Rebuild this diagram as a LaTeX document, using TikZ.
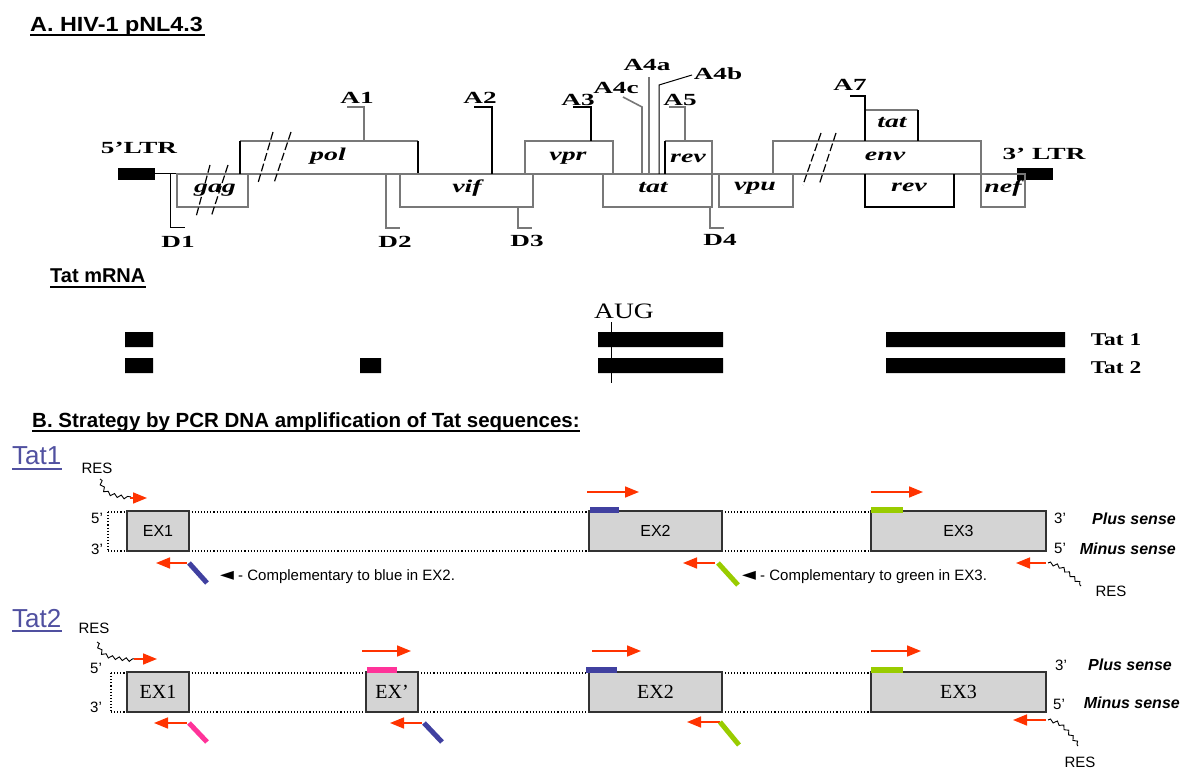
\documentclass[tikz,border=0pt]{standalone}
\usepackage{fontspec}
\setmainfont{Liberation Serif}
\setsansfont{Liberation Sans}
\newfontfamily\symfont{DejaVu Sans}
\usetikzlibrary{arrows.meta,decorations.pathmorphing}

\definecolor{midgray}{RGB}{120,120,120}
\definecolor{resred}{RGB}{255,51,0}
\definecolor{exfill}{RGB}{212,212,212}
\definecolor{exedge}{RGB}{50,50,50}
\definecolor{tagblue}{RGB}{64,64,160}
\definecolor{taggreen}{RGB}{153,204,0}
\definecolor{tagpink}{RGB}{255,51,153}
\definecolor{labblue}{RGB}{80,80,160}

\tikzset{
  gl/.style={draw=midgray, line width=1.6pt},
  bl/.style={draw=black, line width=1.3pt},
  slash/.style={black, line width=1.2pt, dash pattern=on 8pt off 3pt},
  gene/.style={font=\bfseries\itshape\fontsize{18}{18}\selectfont, xscale=1.55, inner sep=0},
  site/.style={font=\bfseries\fontsize{17}{17}\selectfont, xscale=1.6, inner sep=0},
  rna/.style={font=\bfseries\fontsize{18}{18}\selectfont, xscale=1.3, inner sep=0},
  heading/.style={font=\sffamily\bfseries\fontsize{20.5}{24}\selectfont, inner sep=0, anchor=base west},
  tatlabel/.style={font=\sffamily\fontsize{26}{28}\selectfont, text=labblue, inner sep=0, anchor=base west},
  small/.style={font=\sffamily\fontsize{15}{15}\selectfont, inner sep=0},
  sense/.style={font=\sffamily\bfseries\itshape\fontsize{16}{16}\selectfont, inner sep=0, anchor=east},
  exon/.style={draw=exedge, fill=exfill, line width=1.5pt, minimum height=40pt, inner sep=0},
  exsans/.style={exon, font=\sffamily\fontsize{16}{16}\selectfont},
  exserif/.style={exon, font=\fontsize{20}{20}\selectfont},
  strand/.style={dotted, line width=1.1pt},
  primer/.style={draw=resred, line width=1.6pt, -{Triangle[length=14pt,width=11pt]}},
  tag/.style={line width=6pt},
  squig/.style={decorate, decoration={snake, amplitude=1.6pt, segment length=7pt}, line width=0.9pt}
}

\begin{document}
\begin{tikzpicture}[x=1pt,y=-1pt]
\useasboundingbox (0,0) rectangle (1200,778);

% ---- A. genome map
\node[heading, xscale=1.14] (titleA) at (30,32) {A. HIV-1 pNL4.3};
\draw[line width=1.8pt] (30,35) -- (205,35);

\fill (118,168) rectangle (155,180);
\fill (1017,168) rectangle (1053,180);
\draw[bl, line width=1pt] (155,174) -- (180,174);
\draw[gl] (180,174) -- (1017,174);

% reading frames
\draw[gl] (177,174) rectangle (248,207);
\draw[gl] (240,141) -- (418,141);
\draw[bl] (240,174) -- (240,141) (418,141) -- (418,174);
\draw[gl] (400,174) rectangle (533,207);
\draw[gl] (525,174) -- (525,141) -- (613,141) -- (613,174);
\draw[gl] (603,174) rectangle (712,207);
\draw[gl] (665,141) -- (712,141) -- (712,174);
\draw[bl] (665,174) -- (665,141);
\draw[gl] (719,174) rectangle (793,207);
\draw[gl] (773,174) -- (773,141) -- (981,141) -- (981,174);
\draw[gl] (865,110) -- (918,110);
\draw[bl] (865,141) -- (865,110) (918,110) -- (918,141);
\draw[bl] (865,174) -- (865,207) -- (954,207) -- (954,174);
\draw[gl] (981,174) rectangle (1025,207);

% breaks
\draw[slash] (210,165) -- (196,217) (228,165) -- (211,217);
\draw[slash] (273,132) -- (258,183) (291,132) -- (274,183);
\draw[slash] (821,133) -- (803,185) (836,133) -- (819,185);

% splice acceptors
\draw[gl] (364,141) -- (364,107) -- (347,107);
\draw[bl] (492,174) -- (492,107) -- (474,107);
\draw[bl] (591,141) -- (591,107) -- (573,107);
\draw[gl] (642,174) -- (642,107) -- (623,97);
\draw[gl, line width=2.4pt] (649,174) -- (649,77);
\draw[bl, line width=1pt] (659,174) -- (659,85) -- (692,75);
\draw[gl] (685,141) -- (685,107) -- (669,107);
\draw[bl] (865,110) -- (865,96) -- (850,96);
% splice donors
\draw[bl, line width=1pt] (170,174) -- (170,228) -- (185,228);
\draw[gl] (386,174) -- (386,228) -- (400,228);
\draw[gl] (518,207) -- (518,228) -- (532,228);
\draw[gl] (710,207) -- (710,228) -- (724,228);

\node[site] (ltr5) at (139,148) {5’LTR};
\node[site] (ltr3) at (1044,154) {3’ LTR};
\node[site] (sA1) at (357,98) {A1};
\node[site] (sA2) at (480,98) {A2};
\node[site] (sA3) at (578,100) {A3};
\node[site] (sA4c) at (616,88) {A4c};
\node[site] (sA4a) at (647,65) {A4a};
\node[site] (sA4b) at (718,74) {A4b};
\node[site] (sA5) at (680,100) {A5};
\node[site] (sA7) at (850,85) {A7};
\node[site] (sD1) at (178,242) {D1};
\node[site] (sD2) at (395,242) {D2};
\node[site] (sD3) at (527,241) {D3};
\node[site] (sD4) at (720,240) {D4};

\node[gene] (gag) at (215,190) {gag};
\node[gene] (pol) at (328,156) {pol};
\node[gene] (vif) at (467,188) {vif};
\node[gene] (vpr) at (568,158) {vpr};
\node[gene] (rev) at (688,158) {rev};
\node[gene] (tat) at (653,188) {tat};
\node[gene] (vpu) at (755,188) {vpu};
\node[gene] (tatB) at (892,123) {tat};
\node[gene] (env) at (885,156) {env};
\node[gene] (revB) at (909,187) {rev};
\node[gene] (nef) at (1003,188) {nef};

% ---- Tat mRNA
\node[heading, font=\sffamily\bfseries\fontsize{20}{24}\selectfont] (mrna) at (50,283) {Tat mRNA};
\draw[line width=1.5pt] (50,287) -- (mrna.base east |- 0,287);
\fill (125,332) rectangle (153,347) (598,332) rectangle (723,347) (886,332) rectangle (1065,347);
\fill (125,358) rectangle (153,373) (360,358) rectangle (381,373)
      (598,358) rectangle (723,373) (886,358) rectangle (1065,373);
\draw[line width=1pt] (611,322) -- (611,383);
\node[font=\fontsize{22}{22}\selectfont, xscale=1.25, inner sep=0] (aug) at (624,311) {AUG};
\node[rna] (tat1) at (1116,340) {Tat 1};
\node[rna] (tat2) at (1116,368) {Tat 2};

% ---- B. strategy
\node[heading] (titleB) at (32,427) {B. Strategy by PCR DNA amplification of Tat sequences:};
\draw[line width=1.8pt] (32,431) -- (titleB.base east |- 0,431);

% Tat1
\node[tatlabel] (lab1) at (12,464) {Tat1};
\draw[labblue, line width=1.3pt] (12,469) -- (lab1.base east |- 0,469);
\draw[strand] (108,512) -- (1046,512) (108,551) -- (1046,551) (108,512) -- (108,551);
\node[exsans, minimum width=62pt] (a1) at (158,531) {EX1};
\node[exsans, minimum width=133pt] (a2) at (655.5,531) {EX2};
\node[exsans, minimum width=175pt] (a3) at (958.5,531) {EX3};
\draw[tag, tagblue] (590,510) -- (619,510);
\draw[tag, taggreen] (871,510) -- (903,510);
\node[small] at (97,518) {5’};
\node[small] at (97,549) {3’};
\node[small] at (1060,518) {3’};
\node[small] at (1060,548) {5’};
\node[sense] at (1176,519) {Plus sense};
\node[sense] at (1176,549) {Minus sense};

\node[small] (res1) at (97,468) {RES};
\draw[squig] (100,479) .. controls (104,492) .. (131,497);
\draw[primer] (130,498) -- (147,498);
\draw[primer] (587,492) -- (639,492);
\draw[primer] (871,492) -- (923,492);
\draw[primer] (187,563) -- (156,563);
\draw[primer] (715,563) -- (683,563);
\draw[primer] (1046,563) -- (1016,563);
\draw[tag, line width=5pt, tagblue] (189,563) -- (207,583);
\draw[tag, line width=5pt, taggreen] (718,563) -- (738,585);
\node[small, anchor=west] (comp1) at (220,577) {{\symfont\fontsize{18}{18}\selectfont ◄} - Complementary to blue in EX2.};
\node[small, anchor=west] (comp2) at (742,577) {{\symfont\fontsize{18}{18}\selectfont ◄} - Complementary to green in EX3.};
\draw[squig] (1048,563) .. controls (1060,566) .. (1081,586);
\node[small] (res2) at (1111,591) {RES};

% Tat2
\node[tatlabel] (lab2) at (12,627) {Tat2};
\draw[labblue, line width=1.3pt] (12,631) -- (lab2.base east |- 0,631);
\draw[strand] (111,673) -- (1046,673) (111,712) -- (1046,712) (111,673) -- (111,712);
\node[exserif, minimum width=62pt] (b1) at (158,692) {EX1};
\node[exserif, minimum width=52pt] (bx) at (392,692) {EX’};
\node[exserif, minimum width=133pt] (b2) at (655.5,692) {EX2};
\node[exserif, minimum width=175pt] (b3) at (958.5,692) {EX3};
\draw[tag, tagpink] (367,670) -- (397,670);
\draw[tag, tagblue] (586,670) -- (617,670);
\draw[tag, taggreen] (871,670) -- (903,670);
\node[small] at (96,668) {5’};
\node[small] at (96,707) {3’};
\node[small] at (1061,665) {3’};
\node[small] at (1059,704) {5’};
\node[sense] at (1172,665) {Plus sense};
\node[sense] at (1180,703) {Minus sense};

\node[small] (res3) at (94,628) {RES};
\draw[squig] (97,642) .. controls (102,655) .. (135,659);
\draw[primer] (134,659) -- (157,659);
\draw[primer] (362,651) -- (411,651);
\draw[primer] (592,651) -- (641,651);
\draw[primer] (871,651) -- (921,651);
\draw[primer] (187,723) -- (154,723);
\draw[primer] (422,723) -- (390,723);
\draw[primer] (720,722) -- (687,722);
\draw[primer] (1046,720) -- (1013,720);
\draw[tag, line width=5pt, tagpink] (189,723) -- (207,742);
\draw[tag, line width=5pt, tagblue] (424,723) -- (442,742);
\draw[tag, line width=5pt, taggreen] (720,722) -- (739,745);
\draw[squig] (1048,720) .. controls (1060,723) .. (1078,746);
\node[small] (res4) at (1080,762) {RES};
\end{tikzpicture}
\end{document}
